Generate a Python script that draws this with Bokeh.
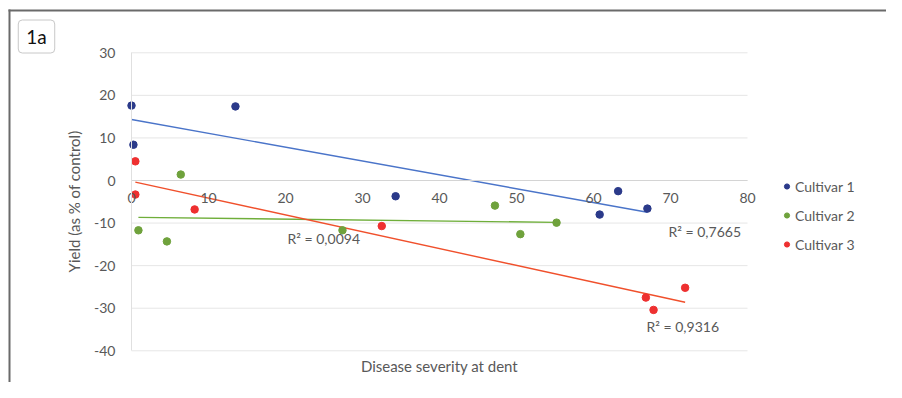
import numpy as np
from bokeh.plotting import figure
from bokeh.models import (Range1d, Label, Legend, LegendItem, FixedTicker, LinearAxis,
                          BoxAnnotation, PrintfTickFormatter)
from bokeh.embed import file_html
from bokeh.resources import INLINE

# ---- data ----
x_ticks = [0, 10, 20, 30, 40, 50, 60, 70, 80]
y_ticks = [-40, -30, -20, -10, 0, 10, 20, 30]

series_names = ["Cultivar 1", "Cultivar 2", "Cultivar 3"]
c1_x = [0.0, 0.25, 13.5, 34.3, 63.2, 60.8, 67.0]
c1_y = [17.6, 8.4, 17.4, -3.7, -2.5, -8.0, -6.6]
c2_x = [0.9, 4.6, 6.4, 27.4, 47.2, 50.5, 55.2]
c2_y = [-11.7, -14.3, 1.4, -11.7, -5.9, -12.6, -9.9]
c3_x = [0.5, 0.5, 8.2, 32.5, 66.8, 67.8, 71.9]
c3_y = [4.5, -3.3, -6.8, -10.7, -27.5, -30.4, -25.2]
r2_texts = ["R\u00b2 = 0,7665", "R\u00b2 = 0,0094", "R\u00b2 = 0,9316"]

FONT = "Lato"
GRAY = "#595959"
point_colors = ["#2b3a8a", "#6fa23c", "#ee3030"]
line_colors = ["#4a74c9", "#6fae3a", "#f0502c"]

# ---- layout: the frame fills the whole canvas ----
W, H = 886, 382
ORG = 0                      # observed canvas origin on the photographed page
X0_PX, X_SCALE = 131, 7.7    # page x of x=0, px per unit
Y0_PX, Y_SCALE = 180, 4.2571 # page y of y=0, px per unit

def dx(px):
    return (px - X0_PX) / X_SCALE

def dy(py):
    return (Y0_PX - py) / Y_SCALE

p = figure(width=W, height=H,
           x_range=Range1d(dx(ORG), dx(ORG + W)), y_range=Range1d(dy(ORG + H), dy(ORG)),
           output_backend="svg", toolbar_location=None,
           x_axis_location=None, y_axis_location=None,
           min_border=0, min_border_left=0, min_border_right=0,
           min_border_top=0, min_border_bottom=0,
           outline_line_color=None, background_fill_color="white",
           border_fill_color="white")
p.grid.visible = False

# outer panel frame: only its top and left edges fall inside the window
BORDER = "#6a6a6a"
p.add_layout(BoxAnnotation(left=dx(8), right=dx(10), top=dy(9), fill_color=BORDER,
                           fill_alpha=1, line_alpha=0))
p.add_layout(BoxAnnotation(left=dx(8), top=dy(9), bottom=dy(11), fill_color=BORDER,
                           fill_alpha=1, line_alpha=0))

# horizontal gridlines from the tick list
p.segment(x0=[x_ticks[0]] * len(y_ticks), y0=y_ticks,
          x1=[x_ticks[-1]] * len(y_ticks), y1=y_ticks,
          line_color="#e6e6e6", line_width=1)

# axes crossing at 0
xa = LinearAxis(fixed_location=0, bounds=(x_ticks[0], x_ticks[-1]),
                ticker=FixedTicker(ticks=x_ticks), formatter=PrintfTickFormatter(format="%d"))
xa.major_tick_out = 0
xa.major_tick_in = 0
xa.minor_tick_line_color = None
xa.axis_line_color = "#d4d4d4"
xa.major_label_text_font = FONT
xa.major_label_text_font_size = "14px"
xa.major_label_text_color = GRAY
xa.major_label_standoff = 12
p.add_layout(xa, "below")

ya = LinearAxis(fixed_location=0, bounds=(y_ticks[0], y_ticks[-1]),
                ticker=FixedTicker(ticks=y_ticks), formatter=PrintfTickFormatter(format="%d"))
ya.major_tick_out = 0
ya.major_tick_in = 0
ya.minor_tick_line_color = None
ya.axis_line_color = "#e0e0e0"
ya.major_label_text_font = FONT
ya.major_label_text_font_size = "14px"
ya.major_label_text_color = GRAY
ya.major_label_standoff = 16
ya.axis_label = "Yield (as % of control)"
ya.axis_label_text_font = FONT
ya.axis_label_text_font_size = "15px"
ya.axis_label_text_font_style = "normal"
ya.axis_label_text_color = GRAY
ya.axis_label_standoff = 8
p.add_layout(ya, "left")

# trendlines and points
items = []
for xs, ys, lc in zip([c1_x, c2_x, c3_x], [c1_y, c2_y, c3_y], line_colors):
    coef = np.polyfit(xs, ys, 1)
    ex = [min(xs), max(xs)]
    p.line(ex, list(np.polyval(coef, ex)), line_color=lc, line_width=1.4)
for name, xs, ys, pc in zip(series_names, [c1_x, c2_x, c3_x], [c1_y, c2_y, c3_y], point_colors):
    r = p.scatter(xs, ys, size=7.5, fill_color=pc, line_color=pc)
    items.append(LegendItem(label=name, renderers=[r]))

legend = Legend(items=items, location=(780 - ORG, ORG + H - 254), glyph_width=13, glyph_height=20,
                label_height=20, spacing=9, padding=0, margin=0, label_standoff=2,
                border_line_color=None, background_fill_alpha=0,
                label_text_font=FONT, label_text_font_size="14px", label_text_color=GRAY)
p.add_layout(legend)

# R^2 labels (left edge, vertical centre in page px)
r2_pos = [(668, 231), (287, 238), (646, 325.7)]
for t, (lx, ly) in zip(r2_texts, r2_pos):
    p.add_layout(Label(x=dx(lx), y=dy(ly), text=t, text_align="left", text_baseline="middle",
                       text_font=FONT, text_font_size="14px", text_color=GRAY))

# x axis title
p.add_layout(Label(x=dx(439), y=dy(365), text="Disease severity at dent", text_align="center",
                   text_baseline="middle", text_font=FONT, text_font_size="15px",
                   text_color=GRAY))

# panel badge "1a" with a soft shadow
p.add_layout(Label(x=dx(36), y=dy(36), x_offset=2, y_offset=-2, text="1a", text_alpha=0,
                   text_align="center", text_baseline="middle", text_font=FONT,
                   text_font_size="19px", background_fill_color="#8a8a8a",
                   background_fill_alpha=0.5, padding=(8, 5), border_radius=4))
p.add_layout(Label(x=dx(36), y=dy(36), text="1a", text_align="center", text_baseline="middle",
                   text_font=FONT, text_font_size="19px", text_color="#111111",
                   background_fill_color="white", border_line_color="#c8c8c8",
                   padding=(8, 5), border_radius=4))

open("out.html", "w").write(file_html(p, INLINE))
